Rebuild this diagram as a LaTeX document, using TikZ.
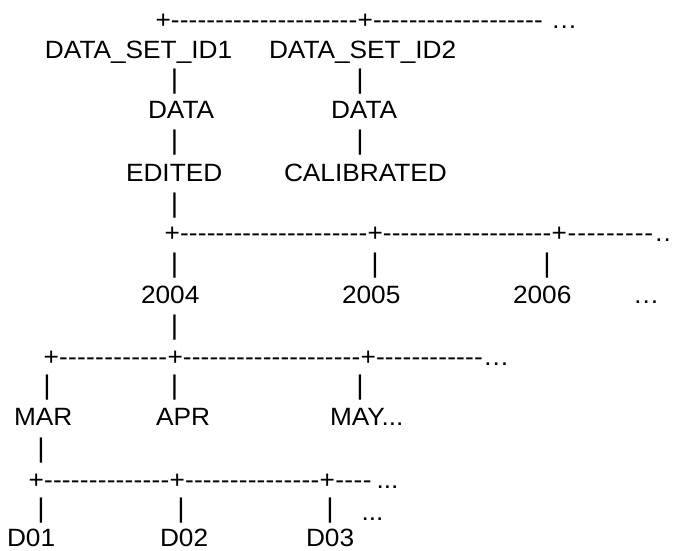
\documentclass[tikz,border=0pt]{standalone}
\usepackage{fontspec}
\setmainfont{Liberation Sans}[FakeStretch=1.05]
\usetikzlibrary{calc}

% a run of hyphens from one point to another, spread evenly
\newcommand{\dashrun}[2]{%
  \path let \p1=#1, \p2=#2 in
    node[ascii, anchor=base west] at (\p1)
      {\hbox to \dimexpr\x2-\x1\relax{\xleaders\hbox{-}\hfill}};}

\begin{document}
\begin{tikzpicture}[x=1pt,y=-1pt]
    \tikzstyle{ascii}=[inner sep=0pt, outer sep=0pt, font=\fontsize{25}{29}\selectfont]
    \tikzstyle{word}=[ascii, anchor=base west]
    \tikzstyle{bar}=[ascii, anchor=base, font=\fontsize{27}{30}\selectfont]

    \useasboundingbox (0,0) rectangle (673,551);

    % data sets
    \node[word] (j1a) at (155.5,28.5) {+};
    \node[word] (j1b) at (357.5,28.5) {+};
    \coordinate (e1) at (543,28.5);
    \node[word] (dots1) at (551,28.5) {…};
    \dashrun{(j1a.base east)}{(j1b.base west)}
    \dashrun{(j1b.base east)}{(e1)}

    \node[word] (ds1) at (45,59) {DATA\_SET\_ID1};
    \node[word] (ds2) at (269,59) {DATA\_SET\_ID2};
    \node[bar] (b3a) at (174.5,88.3) {|};
    \node[bar] (b3b) at (360,88.3) {|};
    \node[word] (dat1) at (148,118) {DATA};
    \node[word] (dat2) at (331,118) {DATA};
    \node[bar] (b5a) at (174.5,149.3) {|};
    \node[bar] (b5b) at (360,149.3) {|};
    \node[word] (edit) at (126,181) {EDITED};
    \node[word] (calib) at (284,181) {CALIBRATED};
    \node[bar] (b7) at (174.5,212.3) {|};

    % years
    \node[word] (j8a) at (164.5,241.5) {+};
    \node[word] (j8b) at (367.5,241.5) {+};
    \node[word] (j8c) at (551.5,241.5) {+};
    \node[word] (dots8) at (654,241.5) {…};
    \dashrun{(j8a.base east)}{(j8b.base west)}
    \dashrun{(j8b.base east)}{(j8c.base west)}
    \dashrun{(j8c.base east)}{(dots8.base west)}

    \node[bar] (b9a) at (174.5,272.3) {|};
    \node[bar] (b9b) at (375,272.3) {|};
    \node[bar] (b9c) at (547,272.3) {|};
    \node[word] (y2004) at (141,303) {2004};
    \node[word] (y2005) at (342,303) {2005};
    \node[word] (y2006) at (513,303) {2006};
    \node[word] (dots10) at (633,303) {…};
    \node[bar] (b11) at (174.5,334.3) {|};

    % months
    \node[word] (j12a) at (43.5,365.5) {+};
    \node[word] (j12b) at (167.5,365.5) {+};
    \node[word] (j12c) at (360.5,365.5) {+};
    \node[word] (dots12) at (483,365.5) {…};
    \dashrun{(j12a.base east)}{(j12b.base west)}
    \dashrun{(j12b.base east)}{(j12c.base west)}
    \dashrun{(j12c.base east)}{(dots12.base west)}

    \node[bar] (b13a) at (47,394.3) {|};
    \node[bar] (b13b) at (174.5,394.3) {|};
    \node[bar] (b13c) at (360,394.3) {|};
    \node[word] (mar) at (14,425) {MAR};
    \node[word] (apr) at (156,425) {APR};
    \node[word] (may) at (330,425) {MAY...};
    \node[bar] (b15) at (41,457.3) {|};

    % days
    \node[word] (j16a) at (28.5,488.5) {+};
    \node[word] (j16b) at (169.5,488.5) {+};
    \node[word] (j16c) at (319.5,488.5) {+};
    \coordinate (e16) at (372,488.5);
    \node[word] (dots16) at (376.6,488.5) {...};
    \dashrun{(j16a.base east)}{(j16b.base west)}
    \dashrun{(j16b.base east)}{(j16c.base west)}
    \dashrun{(j16c.base east)}{(e16)}

    \node[bar] (b17a) at (41,517.3) {|};
    \node[bar] (b17b) at (181,517.3) {|};
    \node[bar] (b17c) at (330,517.3) {|};
    \node[word] (dots17) at (361.6,520) {...};
    \node[word] (d01) at (7,546) {D01};
    \node[word] (d02) at (160,546) {D02};
    \node[word] (d03) at (306,546) {D03};

  \end{tikzpicture}
\end{document}
